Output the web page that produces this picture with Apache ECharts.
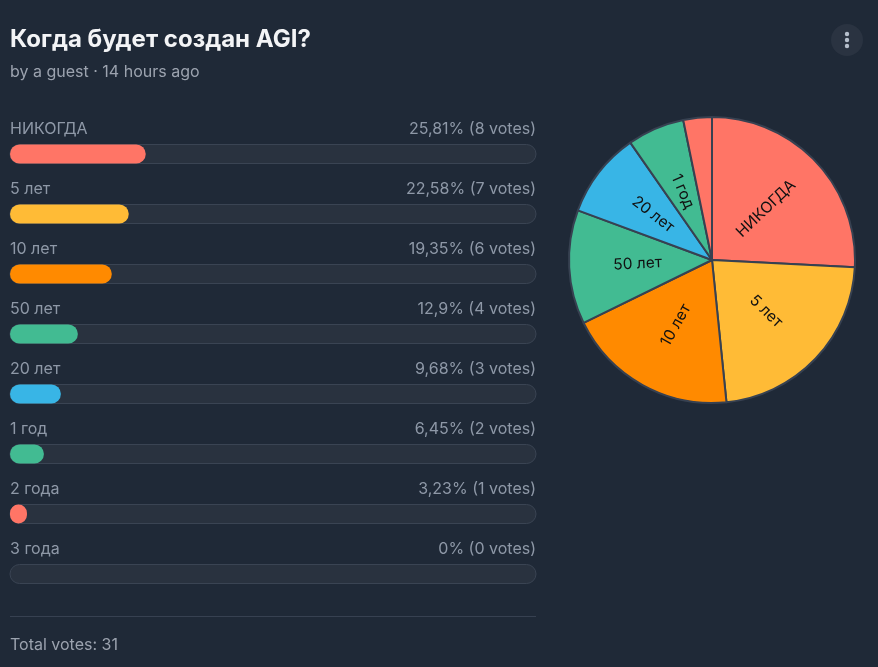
<!DOCTYPE html>
<html>
<head>
<meta charset="utf-8">
<script src="https://cdn.jsdelivr.net/npm/echarts@6/dist/echarts.min.js"></script>
<style>
  html, body { margin: 0; padding: 0; background: #1f2937; }
  #chart { width: 878px; height: 667px; }
</style>
</head>
<body>
<div id="chart"></div>
<script>
// poll options, top to bottom
var options = ['НИКОГДА', '5 лет', '10 лет', '50 лет', '20 лет', '1 год', '2 года', '3 года'];
var votes = [8, 7, 6, 4, 3, 2, 1, 0];
var percentText = ['25,81%', '22,58%', '19,35%', '12,9%', '9,68%', '6,45%', '3,23%', '0%'];
var colors = ['#ff7566', '#ffbb36', '#ff8a00', '#42bb92', '#38b5e6', '#42bb92', '#ff7566', '#ffbb36'];
var totalVotes = 31;

var font = 'Inter, "Noto Sans", sans-serif';

var myChart = echarts.init(document.getElementById('chart'));

var barData = [], leftLabels = [], rightLabels = [], pieData = [];
for (var i = 0; i < options.length; i++) {
    barData.push({ value: votes[i], itemStyle: { color: colors[i] } });
    leftLabels.push({ value: [0, i], name: options[i] });
    rightLabels.push({ value: [totalVotes, i], name: percentText[i] + ' (' + votes[i] + ' votes)' });
    pieData.push({ name: options[i], value: votes[i], itemStyle: { color: colors[i] } });
}

var option = {
    backgroundColor: '#1f2937',
    animation: false,
    title: {
        text: 'Когда будет создан AGI?',
        subtext: 'by a guest · 14 hours ago',
        left: 5,
        top: 23,
        itemGap: 12,
        textStyle: { color: '#f3f4f6', fontSize: 24, fontWeight: 'bold', fontFamily: font },
        subtextStyle: { color: '#9ca3af', fontSize: 16, fontFamily: font }
    },
    grid: { left: 10, top: 124, width: 526, height: 480 },
    xAxis: { type: 'value', min: 0, max: totalVotes, show: false },
    yAxis: { type: 'category', data: options, inverse: true, show: false },
    series: [
        {
            type: 'bar',
            data: barData,
            barWidth: 19,
            showBackground: true,
            backgroundStyle: { color: '#29323f', borderColor: '#3a4453', borderWidth: 1, borderRadius: 9.5 },
            itemStyle: { borderRadius: 9.5 },
            z: 2
        },
        {
            type: 'scatter',
            data: leftLabels,
            symbolSize: 0,
            label: {
                show: true, position: [0, -25], align: 'left', verticalAlign: 'middle',
                formatter: '{b}', color: '#aab4c3', fontSize: 16, fontFamily: font
            }
        },
        {
            type: 'scatter',
            data: rightLabels,
            symbolSize: 0,
            label: {
                show: true, position: [0, -25], align: 'right', verticalAlign: 'middle',
                formatter: '{b}', color: '#aab4c3', fontSize: 16, fontFamily: font
            }
        },
        {
            type: 'pie',
            center: [712, 260],
            radius: 143,
            startAngle: 90,
            clockwise: true,
            minShowLabelAngle: 15,
            data: pieData,
            itemStyle: { borderColor: '#374151', borderWidth: 2 },
            label: {
                show: true, position: 'inside', rotate: 'radial',
                color: '#111111', fontSize: 15.5, fontFamily: font, formatter: '{b}'
            },
            labelLine: { show: false }
        }
    ],
    graphic: [
        { type: 'circle', shape: { cx: 847, cy: 40, r: 16 }, style: { fill: '#2a3341' } },
        { type: 'circle', shape: { cx: 847, cy: 34, r: 2.2 }, style: { fill: '#b6bfcc' } },
        { type: 'circle', shape: { cx: 847, cy: 40, r: 2.2 }, style: { fill: '#b6bfcc' } },
        { type: 'circle', shape: { cx: 847, cy: 46, r: 2.2 }, style: { fill: '#b6bfcc' } },
        { type: 'line', shape: { x1: 10, y1: 616.5, x2: 536, y2: 616.5 }, style: { stroke: '#374151', lineWidth: 1 } },
        {
            type: 'text', x: 10, y: 645,
            style: { text: 'Total votes: ' + totalVotes, fill: '#9ca3af', fontSize: 16, fontFamily: font, verticalAlign: 'middle' }
        }
    ]
};

myChart.setOption(option);
</script>
</body>
</html>
